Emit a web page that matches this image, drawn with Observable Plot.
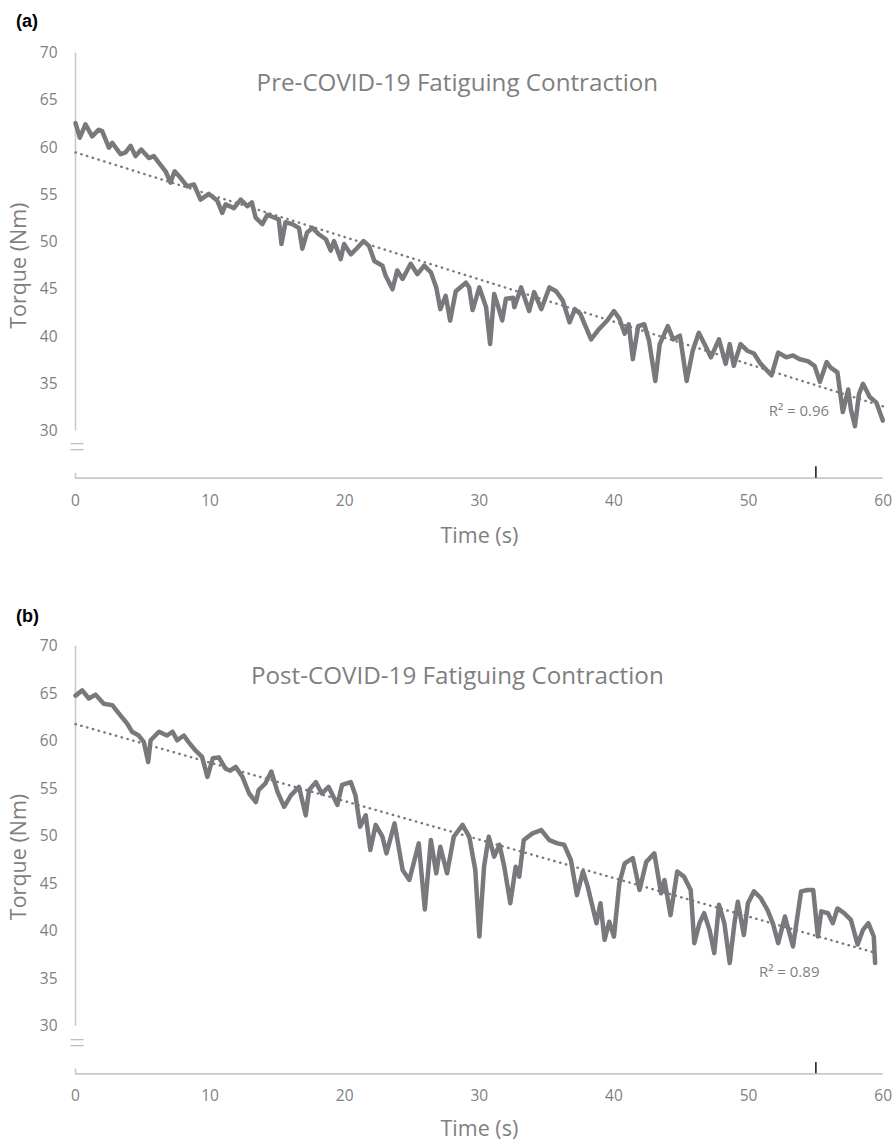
<!DOCTYPE html>
<html><head><meta charset="utf-8">
<script src="https://cdn.jsdelivr.net/npm/d3@7"></script>
<script src="https://cdn.jsdelivr.net/npm/@observablehq/plot@0.6"></script>
<style>
body{margin:0;background:#fff;}
#wrap{position:relative;width:893px;height:1141px;overflow:hidden;background:#fff;}
.panel{position:relative;width:893px;}
.tag{position:absolute;left:16px;font:bold 18px "Liberation Sans",Arial,sans-serif;color:#000;line-height:21px;}
svg{display:block}
</style></head><body>
<div id="wrap">
 <div class="panel" id="pa"><div class="tag" style="top:11px">(a)</div></div>
 <div class="panel" id="pb"><div class="tag" style="top:13px">(b)</div></div>
</div>
<script>
// ---- tick labels ----
const xTicks = [0, 10, 20, 30, 40, 50, 60];
const yTicks = [30, 35, 40, 45, 50, 55, 60, 65, 70];
const xLabel = "Time (s)";
const yLabel = "Torque (Nm)";

// ---- panel (a): pre-COVID-19 ----
const preTitle = "Pre-COVID-19 Fatiguing Contraction";
const preTime = [0,0.32,0.74,1.24,1.73,1.98,2.48,2.73,3.35,3.72,4.09,4.46,4.88,5.45,5.82,6.2,6.69,7.06,7.36,7.8,8.3,8.8,9.29,9.91,10.53,10.9,11.15,11.77,12.27,12.76,13.1,13.38,13.88,14.25,14.75,15.1,15.3,15.6,16.1,16.6,16.85,17.2,17.6,18.1,18.6,18.96,19.2,19.7,19.95,20.45,20.94,21.4,21.8,22.2,22.8,23.05,23.55,23.9,24.3,24.9,25.4,25.9,26.4,26.8,27.1,27.5,27.83,28.25,29.0,29.24,29.5,30.0,30.5,30.8,31.1,31.35,31.7,31.97,32.5,32.6,33.1,33.7,34.07,34.6,35.2,35.7,36.2,36.7,37.1,37.5,38.3,38.9,39.5,40.0,40.4,40.8,41.1,41.4,41.8,42.25,42.6,43.07,43.4,44.0,44.4,44.9,45.4,45.85,46.3,46.8,47.2,47.8,48.3,48.6,48.9,49.4,49.9,50.4,50.9,51.7,52.2,52.8,53.3,53.8,54.4,54.9,55.3,55.8,56.1,56.6,57.0,57.4,57.6,57.9,58.2,58.5,59.0,59.5,59.97];
const preTorque = [62.6,61.05,62.46,61.2,61.9,61.75,60.0,60.5,59.3,59.5,60.2,59.1,59.8,58.9,59.1,58.4,57.5,56.3,57.5,56.8,55.9,56.1,54.5,55.1,54.4,53.1,54.0,53.6,54.5,53.8,54.2,52.6,51.9,52.9,52.6,52.4,49.8,52.1,51.9,51.5,49.3,51.0,51.5,50.8,50.3,49.1,50.1,48.2,49.8,48.7,49.4,50.1,49.6,48.0,47.5,46.4,45.0,47.0,46.1,47.7,46.6,47.5,46.8,45.2,42.9,44.3,41.7,44.8,45.7,45.2,42.8,45.2,43.1,39.2,44.5,43.4,41.7,44.0,44.1,43.1,45.2,42.7,44.7,42.9,45.2,44.8,43.8,41.5,42.9,42.4,39.7,40.8,41.7,42.7,41.9,40.3,41.3,37.6,41.1,41.3,39.6,35.3,39.2,41.1,39.7,40.1,35.3,38.5,40.4,39.0,37.8,39.7,37.1,39.2,36.9,39.2,38.5,38.2,37.1,35.9,38.3,37.8,38.0,37.6,37.4,36.9,35.2,37.3,36.7,36.2,32.0,34.4,32.3,30.5,33.9,35.0,33.6,33.0,31.1];
const preTrendTime = [0, 60];
const preTrendTorque = [59.5, 32.6];
const preR2 = "0.96";

// ---- panel (b): post-COVID-19 ----
const postTitle = "Post-COVID-19 Fatiguing Contraction";
const postTime = [0,0.5,0.99,1.49,2.1,2.73,3.35,3.84,4.2,4.7,5.08,5.4,5.58,6.2,6.8,7.2,7.56,8.05,8.4,8.9,9.4,9.8,10.2,10.65,11.15,11.5,11.9,12.4,12.9,13.4,13.6,14.1,14.55,15.0,15.5,16.0,16.6,17.1,17.35,17.85,18.3,18.8,19.45,19.8,20.45,20.8,21.14,21.56,21.9,22.3,22.8,23.1,23.7,24.3,24.8,25.5,25.95,26.4,26.8,27.1,27.6,28.1,28.75,29.25,29.7,30.0,30.35,30.7,31.1,31.5,31.85,32.3,32.7,32.96,33.3,33.95,34.6,35.2,35.8,36.3,36.8,37.25,37.7,38.05,38.7,39.0,39.3,39.65,40.0,40.4,40.8,41.4,41.9,42.4,43.0,43.5,43.75,44.2,44.7,45.2,45.7,45.97,46.35,46.7,47.1,47.45,47.8,48.2,48.6,48.95,49.2,49.65,49.95,50.4,50.9,51.4,51.8,52.2,52.7,53.3,53.9,54.4,54.8,55.15,55.4,55.9,56.26,56.6,57.1,57.6,58.1,58.5,58.9,59.3,59.4];
const postTorque = [64.8,65.35,64.5,64.9,63.95,63.8,62.7,61.85,61.0,60.6,59.9,57.8,60.1,61.0,60.6,61.0,60.1,60.6,59.9,59.05,58.35,56.25,58.2,58.3,57.1,56.9,57.3,56.25,54.5,53.6,54.85,55.55,56.8,54.7,53.1,54.3,55.2,52.2,54.85,55.7,54.5,55.2,53.3,55.4,55.7,54.3,51.0,52.2,48.55,51.2,49.95,48.2,51.35,46.45,45.4,49.25,42.3,49.6,46.1,48.9,46.1,49.95,51.2,49.95,46.45,39.45,46.8,49.95,47.85,49.1,46.8,42.95,46.8,45.75,49.6,50.3,50.65,49.6,49.25,49.1,47.5,43.8,46.3,44.7,40.85,42.95,39.1,41.0,39.45,45.05,47.15,47.7,44.35,47.3,48.2,44.0,45.4,41.7,46.3,45.75,44.35,38.75,40.85,41.9,40.15,37.7,42.8,40.85,36.65,40.85,43.1,39.6,42.95,44.2,43.5,42.25,40.85,38.75,41.55,38.4,44.2,44.35,44.35,39.45,42.1,41.9,40.85,42.4,41.9,41.2,38.6,40.15,40.85,39.45,36.65];
const postTrendTime = [0, 59.5];
const postTrendTorque = [61.8, 37.7];
const postR2 = "0.89";

// marked time (short black tick on the x axis)
const markTime = [55];

const zip = (ts, vs) => ts.map((t, i) => ({t, v: vs[i]}));

const TEXT = "#7f7f7f";
const LINE = "#78797c";
const AXIS = "#c9c9c9";

function panel({series, trend, r2, title, height, marginBottom, r2dx, r2dy, ylabDy, xlabDy}) {
  return Plot.plot({
    width: 893,
    height,
    marginLeft: 75,
    marginRight: 10.3,
    marginTop: 52.7,
    marginBottom,
    style: {fontFamily: "'Open Sans', sans-serif", fontSize: "15px", color: TEXT, background: "#fff", overflow: "visible"},
    x: {domain: [0, 60]},
    y: {domain: [25, 70]},
    marks: [
      Plot.axisY({ticks: yTicks, tickSize: 0, tickPadding: 18, label: null, fill: TEXT, fontSize: 15.5}),
      Plot.axisX({ticks: xTicks, tickSize: 0, tickPadding: 16.5, label: null, fill: TEXT, fontSize: 15.5}),
      // axis lines
      Plot.ruleX([0], {y1: yTicks[0], y2: yTicks[yTicks.length - 1], stroke: AXIS, strokeWidth: 1.6}),
      Plot.ruleX([0], {y1: 25, y2: 25.5, stroke: AXIS, strokeWidth: 1.6}),
      Plot.ruleY([25], {x1: xTicks[0], x2: xTicks[xTicks.length - 1], stroke: AXIS, strokeWidth: 1.8}),
      Plot.ruleX(markTime, {y1: 25, y2: 26.2, stroke: "#000", strokeWidth: 1.4}),
      // axis break
      Plot.text(["="], {frameAnchor: "bottom-left", textAnchor: "middle", dx: 1.5, dy: -21, fontSize: 28, fill: "#bdbdbd", fontWeight: 300}),
      // data
      Plot.line(series, {x: "t", y: "v", stroke: LINE, strokeWidth: 4.5, strokeLinejoin: "round", strokeLinecap: "round"}),
      Plot.line(trend, {x: "t", y: "v", stroke: LINE, strokeWidth: 2.4, strokeDasharray: "0.4 5.6", strokeLinecap: "round"}),
      Plot.text(trend, Plot.selectLast({x: "t", y: "v", text: () => "R² = " + r2, textAnchor: "end", dx: r2dx, dy: r2dy, fill: TEXT, fontSize: 15})),
      // title and axis titles
      Plot.text([title], {frameAnchor: "top", dx: -22, dy: 20.6, fontSize: 24.2, fill: TEXT}),
      Plot.text([xLabel], {frameAnchor: "bottom", textAnchor: "middle", dy: xlabDy, fontSize: 21.5, fill: TEXT}),
      Plot.text([yLabel], {frameAnchor: "left", textAnchor: "middle", rotate: -90, dx: -56, dy: ylabDy, fontSize: 21.5, fill: TEXT})
    ]
  });
}

document.getElementById("pa").append(panel({
  series: zip(preTime, preTorque),
  trend: zip(preTrendTime, preTrendTorque),
  r2: preR2, title: preTitle,
  height: 593, marginBottom: 115.3, r2dx: -54, r2dy: 5, ylabDy: 0, xlabDy: 64.5
}));
document.getElementById("pb").append(panel({
  series: zip(postTime, postTorque),
  trend: zip(postTrendTime, postTrendTorque),
  r2: postR2, title: postTitle,
  height: 548, marginBottom: 67.7, r2dx: -57, r2dy: 19, ylabDy: -3, xlabDy: 62.5
}));
</script>
</body></html>
